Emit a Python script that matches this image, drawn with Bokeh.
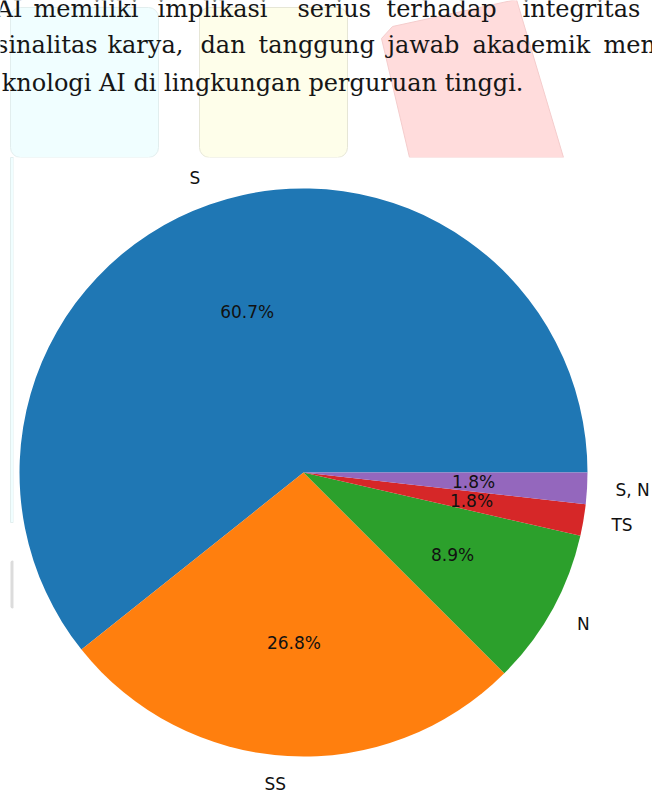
import numpy as np
from bokeh.plotting import figure
from bokeh.models import Range1d, ColumnDataSource
from bokeh.core.properties import value
from bokeh.embed import file_html
from bokeh.resources import INLINE

# ---- pie data ----
labels = ["S", "SS", "N", "TS", "S, N"]
counts = [34, 15, 5, 1, 1]
colors = ["#1f77b4", "#ff7f0e", "#2ca02c", "#d62728", "#9467bd"]

# ---- background document text ----
line1_words = ["AI", "memiliki", "implikasi", "serius", "terhadap", "integritas"]
line2_words = ["sinalitas", "karya,", "dan", "tanggung", "jawab", "akademik", "men"]
line3_text = "knologi AI di lingkungan perguruan tinggi."

# layout (reference pixel frame, y measured from top)
REF_W, REF_H = 652, 791
def Y(v):
    return REF_H - v

line1_x = [22, 33, 157, 297, 386, 522]
line2_x = [97, 107, 200, 258, 387, 472, 603]
line_base = [8, 44, 82]

p = figure(width=REF_W, height=REF_H, x_range=Range1d(0, REF_W), y_range=Range1d(0, REF_H),
           output_backend="svg", toolbar_location=None, min_border=0)
p.axis.visible = False
p.grid.visible = False
p.outline_line_color = None
p.background_fill_color = "white"
p.border_fill_color = "white"

# background decorative boxes (cut off by the chart figure at y=157)
p.quad(left=[10], right=[158], top=[Y(7)], bottom=[Y(157)], fill_color="#f0feff",
       line_color="#e2eeee", line_width=1, border_radius=10)
p.quad(left=[10], right=[13], top=[Y(157)], bottom=[Y(522)], fill_color="#f0feff",
       line_color="#e2eeee", line_width=1)
p.quad(left=[10], right=[14], top=[Y(560)], bottom=[Y(608)], fill_color="#dcdcdc",
       line_color=None, border_radius=2)
p.quad(left=[199], right=[347], top=[Y(7)], bottom=[Y(157)], fill_color="#fefeea",
       line_color="#e6e6d6", line_width=1, border_radius=10)
p.patch(x=[381, 392, 516, 563, 409], y=[Y(38), Y(26), Y(-1), Y(157), Y(157)],
        fill_color="#ffdcdc", line_color="#f4cccc", line_width=1)

# white chart figure area
p.quad(left=[13], right=[660], top=[Y(157)], bottom=[Y(800)], fill_color="white", line_color=None)

# document text
for words, xs, base in zip([line1_words, line2_words], [line1_x, line2_x], line_base[:2]):
    aligns = ["right"] + ["left"] * (len(words) - 1)
    src = ColumnDataSource(dict(x=xs, y=[Y(base)] * len(words), t=words, a=aligns))
    p.text(x="x", y="y", text="t", text_align="a", source=src, text_baseline="alphabetic",
           text_font=value("DejaVu Serif"), text_font_size="24px", text_color="#161616")
p.text(x=[523], y=[Y(line_base[2])], text=[line3_text], text_align="right",
       text_baseline="alphabetic", text_font=value("DejaVu Serif"), text_font_size="24px",
       text_color="#161616")

# ---- pie ----
cx, cy, r = 303, Y(472), 284
total = sum(counts)
fracs = np.array(counts) / total
ends = np.cumsum(fracs) * 2 * np.pi
starts = np.concatenate([[0.0], ends[:-1]])
mids = (starts + ends) / 2

pie_src = ColumnDataSource(dict(start=starts, end=ends, color=colors))
p.wedge(x=cx, y=cy, radius=r, start_angle="start", end_angle="end",
        fill_color="color", line_color=None, source=pie_src)

lx = cx + 1.1 * r * np.cos(mids)
ly = cy + 1.1 * r * np.sin(mids)
lalign = ["left" if np.cos(m) > 0 else "right" for m in mids]
lab_src = ColumnDataSource(dict(x=lx, y=ly, t=labels, a=lalign))
p.text(x="x", y="y", text="t", text_align="a", text_baseline="middle", source=lab_src,
       text_font=value("DejaVu Sans"), text_font_size="17px", text_color="#111111")

pct = [f"{100 * f:.1f}%" for f in fracs]
px = cx + 0.6 * r * np.cos(mids)
py = cy + 0.6 * r * np.sin(mids)
pct_src = ColumnDataSource(dict(x=px, y=py, t=pct))
p.text(x="x", y="y", text="t", text_align="center", text_baseline="middle", source=pct_src,
       text_font=value("DejaVu Sans"), text_font_size="17px", text_color="#111111")

open("out.html", "w").write(file_html(p, INLINE))
